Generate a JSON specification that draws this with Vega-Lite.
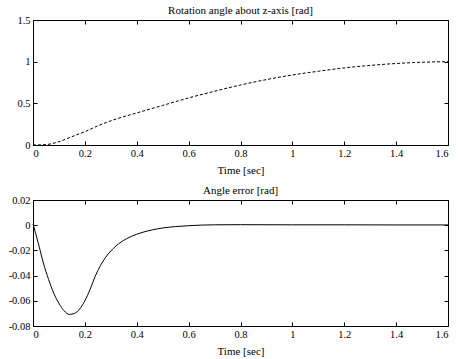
{
  "$schema": "https://vega.github.io/schema/vega-lite/v6.json",
  "background": "white",
  "padding": {"left": 7, "top": 4, "right": 8, "bottom": 1},
  "spacing": 8,
  "datasets": {
    "angle": [
      {"t": 0, "v": 0}, {"t": 0.05, "v": 0.005}, {"t": 0.1, "v": 0.04}, {"t": 0.15, "v": 0.1},
      {"t": 0.2, "v": 0.16}, {"t": 0.25, "v": 0.23}, {"t": 0.3, "v": 0.29}, {"t": 0.35, "v": 0.34},
      {"t": 0.4, "v": 0.385}, {"t": 0.5, "v": 0.475}, {"t": 0.6, "v": 0.565}, {"t": 0.7, "v": 0.645},
      {"t": 0.8, "v": 0.72}, {"t": 0.9, "v": 0.785}, {"t": 1.0, "v": 0.84}, {"t": 1.1, "v": 0.885},
      {"t": 1.2, "v": 0.925}, {"t": 1.3, "v": 0.955}, {"t": 1.4, "v": 0.978}, {"t": 1.5, "v": 0.993},
      {"t": 1.6, "v": 1.0}
    ],
    "err": [
      {"t": 0, "v": 0.001}, {"t": 0.02, "v": -0.014}, {"t": 0.04, "v": -0.030}, {"t": 0.06, "v": -0.043},
      {"t": 0.08, "v": -0.054}, {"t": 0.1, "v": -0.062}, {"t": 0.12, "v": -0.068}, {"t": 0.14, "v": -0.0708},
      {"t": 0.16, "v": -0.07}, {"t": 0.18, "v": -0.0665}, {"t": 0.2, "v": -0.06}, {"t": 0.22, "v": -0.051},
      {"t": 0.24, "v": -0.0405}, {"t": 0.26, "v": -0.032}, {"t": 0.28, "v": -0.0255}, {"t": 0.3, "v": -0.0205},
      {"t": 0.32, "v": -0.0165}, {"t": 0.34, "v": -0.0133}, {"t": 0.38, "v": -0.0088}, {"t": 0.42, "v": -0.0058},
      {"t": 0.46, "v": -0.0037}, {"t": 0.5, "v": -0.0022}, {"t": 0.55, "v": -0.0011}, {"t": 0.6, "v": -0.0004},
      {"t": 0.65, "v": 0.0001}, {"t": 0.7, "v": 0.0003}, {"t": 0.8, "v": 0.0004}, {"t": 1.0, "v": 0.0003},
      {"t": 1.2, "v": 0.0003}, {"t": 1.4, "v": 0.0002}, {"t": 1.6, "v": 0.0002}
    ]
  },
  "vconcat": [
    {
      "width": 415,
      "height": 125,
      "title": {"text": "Rotation angle about z-axis [rad]"},
      "data": {"name": "angle"},
      "resolve": {"axis": {"x": "independent", "y": "independent"}},
      "layer": [
        {
          "mark": {"type": "line", "color": "black", "strokeWidth": 1, "strokeDash": [3, 2], "interpolate": "monotone"},
          "encoding": {
            "x": {"field": "t", "type": "quantitative", "scale": {"domain": [0, 1.6], "nice": false},
                  "axis": {"orient": "bottom", "values": [0, 0.2, 0.4, 0.6, 0.8, 1, 1.2, 1.4, 1.6], "format": "~g", "title": "Time [sec]"}},
            "y": {"field": "v", "type": "quantitative", "scale": {"domain": [0, 1.5], "nice": false},
                  "axis": {"orient": "left", "values": [0, 0.5, 1, 1.5], "format": "~g", "title": null}}
          }
        },
        {
          "mark": {"type": "line", "opacity": 0},
          "encoding": {
            "x": {"field": "t", "type": "quantitative", "scale": {"domain": [0, 1.6], "nice": false},
                  "axis": {"orient": "top", "values": [0, 0.2, 0.4, 0.6, 0.8, 1, 1.2, 1.4, 1.6], "labels": false, "title": null}},
            "y": {"field": "v", "type": "quantitative", "scale": {"domain": [0, 1.5], "nice": false},
                  "axis": {"orient": "right", "values": [0, 0.5, 1, 1.5], "labels": false, "title": null}}
          }
        }
      ]
    },
    {
      "width": 415,
      "height": 126,
      "title": {"text": "Angle error [rad]"},
      "data": {"name": "err"},
      "resolve": {"axis": {"x": "independent", "y": "independent"}},
      "layer": [
        {
          "mark": {"type": "line", "color": "black", "strokeWidth": 1, "interpolate": "monotone"},
          "encoding": {
            "x": {"field": "t", "type": "quantitative", "scale": {"domain": [0, 1.6], "nice": false},
                  "axis": {"orient": "bottom", "values": [0, 0.2, 0.4, 0.6, 0.8, 1, 1.2, 1.4, 1.6], "format": "~g", "title": "Time [sec]"}},
            "y": {"field": "v", "type": "quantitative", "scale": {"domain": [-0.08, 0.02], "nice": false},
                  "axis": {"orient": "left", "values": [-0.08, -0.06, -0.04, -0.02, 0, 0.02], "labelExpr": "replace(format(datum.value, '~g'), '\u2212', '-')", "title": null}}
          }
        },
        {
          "mark": {"type": "line", "opacity": 0},
          "encoding": {
            "x": {"field": "t", "type": "quantitative", "scale": {"domain": [0, 1.6], "nice": false},
                  "axis": {"orient": "top", "values": [0, 0.2, 0.4, 0.6, 0.8, 1, 1.2, 1.4, 1.6], "labels": false, "title": null}},
            "y": {"field": "v", "type": "quantitative", "scale": {"domain": [-0.08, 0.02], "nice": false},
                  "axis": {"orient": "right", "values": [-0.08, -0.06, -0.04, -0.02, 0, 0.02], "labels": false, "title": null}}
          }
        }
      ]
    }
  ],
  "config": {
    "font": "Liberation Serif",
    "view": {"stroke": "black", "strokeWidth": 1},
    "axis": {
      "domain": false,
      "grid": false,
      "ticks": true,
      "tickColor": "black",
      "tickSize": -4,
      "labelPadding": 7,
      "labelFont": "Liberation Serif",
      "labelFontSize": 10.5,
      "labelColor": "black",
      "titleFont": "Liberation Serif",
      "titleFontSize": 11,
      "titleFontWeight": "normal",
      "titleColor": "black",
      "titlePadding": 6
    },
    "title": {"font": "Liberation Serif", "fontSize": 11, "fontWeight": "normal", "color": "black", "offset": -1, "anchor": "middle"}
  }
}
